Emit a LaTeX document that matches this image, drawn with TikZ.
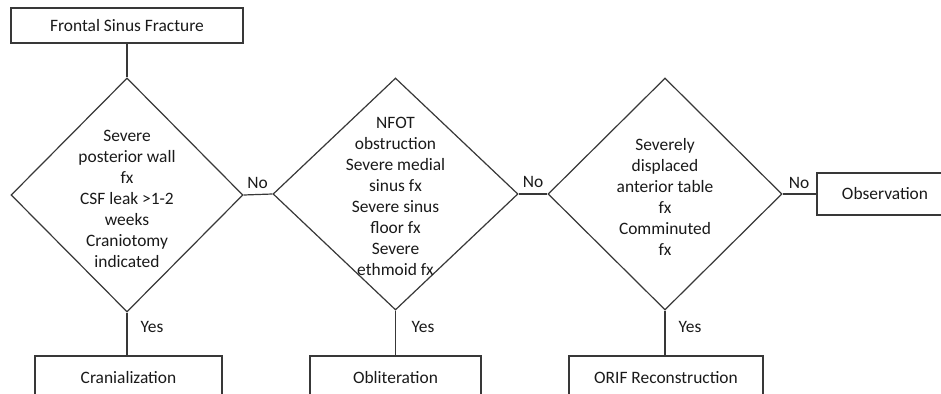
\documentclass[tikz,border=0pt]{standalone}
\usepackage{fontspec}
\setmainfont{Carlito}
\usetikzlibrary{shapes.geometric}
\definecolor{linec}{HTML}{383838}
\definecolor{textc}{HTML}{1A1A1A}
\begin{document}
\begin{tikzpicture}[x=1pt,y=-1pt,
  every node/.style={font=\fontsize{17.4}{21}\selectfont, text=textc},
  box/.style={draw=linec, line width=1.2pt, rectangle, inner sep=0pt},
  decision/.style={draw=linec, line width=1.2pt, diamond, inner sep=0pt},
  dtext/.style={align=center, inner sep=0pt},
  conn/.style={draw=linec, line width=1.2pt},
  lbl/.style={inner sep=0pt}]
\useasboundingbox (0,0) rectangle (941,393);
\clip (0,0) rectangle (941,393);
\fill[white] (0,0) rectangle (941,393);

\node[box, minimum width=232pt, minimum height=35pt] (top) at (127,25.5) {Frontal Sinus Fracture};

\node[decision, minimum width=232pt, minimum height=234pt] (d1) at (127,195) {};
\node[dtext] (t1) at (127,198.5) {Severe\\posterior wall\\fx\\CSF leak >1-2\\weeks\\Craniotomy\\indicated};

\node[decision, minimum width=245pt, minimum height=232pt] (d2) at (395.5,194) {};
\node[dtext] (t2) at (395.5,196) {NFOT\\obstruction\\Severe medial\\sinus fx\\Severe sinus\\floor fx\\Severe\\ethmoid fx};

\node[decision, minimum width=234pt, minimum height=232pt] (d3) at (665,194) {};
\node[dtext] (t3) at (665,196.5) {Severely\\displaced\\anterior table\\fx\\Comminuted\\fx};

\node[box, minimum width=136pt, minimum height=42pt] (obs) at (885,194) {Observation};

\node[box, minimum width=187pt, minimum height=44pt] (cran) at (128.5,378) {Cranialization};
\node[box, minimum width=171pt, minimum height=44pt] (obl) at (395.5,378) {Obliteration};
\node[box, minimum width=194pt, minimum height=44pt] (orif) at (666,378) {ORIF Reconstruction};

\draw[conn] (top.south) -- (d1.north);
\draw[conn] (d1.east) -- (d2.west);
\draw[conn] (d2.east) -- (d3.west);
\draw[conn] (d3.east) -- (obs.west);
\draw[conn] (d1.south) -- (d1.south |- cran.north);
\draw[conn] (d2.south) -- (d2.south |- obl.north);
\draw[conn] (d3.south) -- (d3.south |- orif.north);

\node[lbl] (no1) at (257.5,183) {No};
\node[lbl] (no2) at (533,182) {No};
\node[lbl] (no3) at (799,183) {No};
\node[lbl] (yes1) at (152,327) {Yes};
\node[lbl] (yes2) at (423,327) {Yes};
\node[lbl] (yes3) at (690,327) {Yes};
\end{tikzpicture}
\end{document}
